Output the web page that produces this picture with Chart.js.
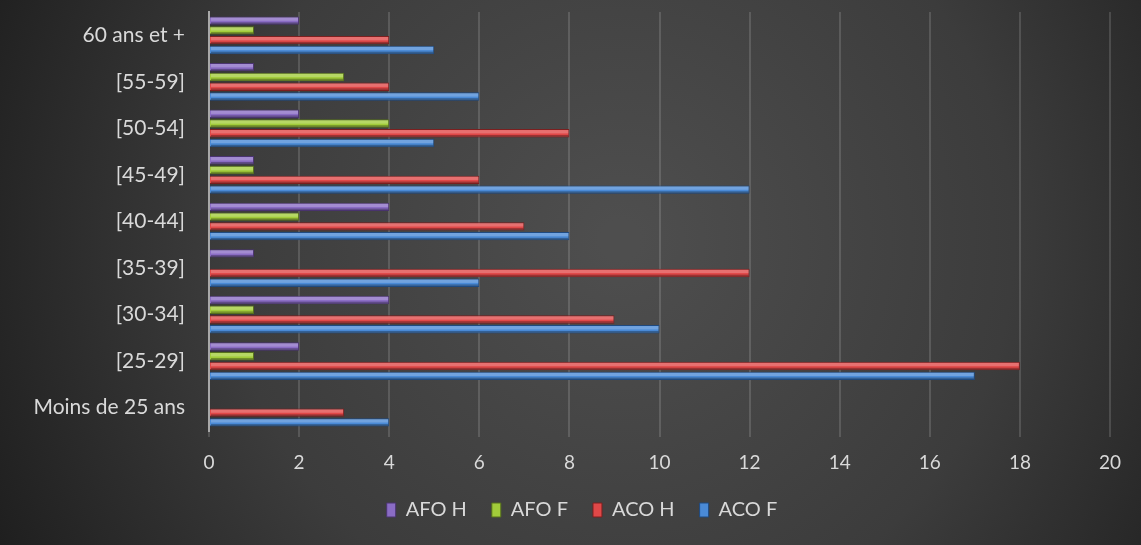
<!DOCTYPE html>
<html>
<head>
<meta charset="utf-8">
<script src="https://cdn.jsdelivr.net/npm/chart.js@4.4.0/dist/chart.umd.min.js"></script>
<style>
  html, body { margin: 0; padding: 0; background: #2a2a2a; }
  #wrap { width: 1141px; height: 545px; }
</style>
</head>
<body>
<div id="wrap"><canvas id="myChart" width="1141" height="545"></canvas></div>
<script>
// categories, bottom to top as in the source
const ageGroups = ['Moins de 25 ans', '[25-29]', '[30-34]', '[35-39]', '[40-44]', '[45-49]', '[50-54]', '[55-59]', '60 ans et +']
const afoH = [0, 2, 4, 1, 4, 1, 2, 1, 2]
const afoF = [0, 1, 1, 0, 2, 1, 4, 3, 1]
const acoH = [3, 18, 9, 12, 7, 6, 8, 4, 4]
const acoF = [4, 17, 10, 6, 8, 12, 5, 6, 5]
const xTicks = [0, 2, 4, 6, 8, 10, 12, 14, 16, 18, 20]

const fontName = "Lato, 'Open Sans', sans-serif"
const ctx = document.getElementById('myChart').getContext('2d')

const bgPlugin = {
    id: 'bg',
    beforeDraw(chart){
        const c = chart.ctx
        const w = chart.width, h = chart.height
        const g = c.createRadialGradient(620, 240, 20, 620, 240, 700)
        g.addColorStop(0, '#4e4e4e')
        g.addColorStop(0.55, '#3c3c3c')
        g.addColorStop(1, '#1e1e1e')
        c.save()
        c.fillStyle = g
        c.fillRect(0, 0, w, h)
        c.restore()
    }
}

// the legend sits centred under the plot area, not the whole canvas
const legendShift = {
    id: 'legendShift',
    afterLayout(chart){
        if (chart.legend) chart.legend.left += 54
    }
}

// lighter upper half, dark lower edge: the bevel look of the source bars
const shinePlugin = {
    id: 'shine',
    afterDatasetsDraw(chart){
        const c = chart.ctx
        c.save()
        chart.data.datasets.forEach((ds, i) => {
            const meta = chart.getDatasetMeta(i)
            meta.data.forEach(bar => {
                const len = bar.x - bar.base
                if (len < 1) return
                const top = bar.y - bar.height / 2
                c.fillStyle = 'rgba(255,255,255,0.22)'
                c.fillRect(bar.base + 1, top + 1, len - 2, bar.height * 0.4)
                c.fillStyle = 'rgba(0,0,0,0.3)'
                c.fillRect(bar.base + 1, top + bar.height - 2.5, len - 2, 1.5)
            })
        })
        c.restore()
    }
}

const barOpts = { categoryPercentage: 0.84, barPercentage: 0.86, borderWidth: 1 }

new Chart(ctx, {
    type: 'bar',
    data: {
        labels: ageGroups,
        datasets: [
            { label: 'AFO H', data: afoH, backgroundColor: '#8a6cc4', borderColor: '#4a3470', ...barOpts },
            { label: 'AFO F', data: afoF, backgroundColor: '#a2cc3a', borderColor: '#56701c', ...barOpts },
            { label: 'ACO H', data: acoH, backgroundColor: '#e04848', borderColor: '#7c1f1f', ...barOpts },
            { label: 'ACO F', data: acoF, backgroundColor: '#4a8ad6', borderColor: '#1f4a80', ...barOpts }
        ]
    },
    options: {
        indexAxis: 'y',
        responsive: false,
        animation: false,
        layout: { padding: { top: 12, right: 31, bottom: 15, left: 0 } },
        scales: {
            x: {
                min: 0,
                max: 20,
                afterBuildTicks: axis => { axis.ticks = xTicks.map(v => ({ value: v })) },
                afterFit: axis => { axis.height = 44 },
                grid: { color: 'rgba(255,255,255,0.14)', lineWidth: 2, drawTicks: true, tickLength: 6, tickColor: 'rgba(255,255,255,0.14)' },
                border: { display: false },
                ticks: { color: '#d9d9d9', font: { family: fontName, size: 19 }, padding: 14 }
            },
            y: {
                reverse: true,
                grid: { display: false },
                border: { display: true, color: '#a8a8a8', width: 2 },
                ticks: { color: '#d9d9d9', font: { family: fontName, size: 21 }, padding: 16 },
                afterFit: axis => {
                    axis.width = 209
                    axis.paddingTop = 0
                    axis.paddingBottom = 0
                }
            }
        },
        plugins: {
            legend: {
                position: 'bottom',
                labels: {
                    color: '#d9d9d9',
                    font: { family: fontName, size: 20 },
                    boxWidth: 9,
                    boxHeight: 14,
                    padding: 25
                }
            },
            tooltip: { enabled: false }
        }
    },
    plugins: [bgPlugin, legendShift, shinePlugin]
})
</script>
</body>
</html>
